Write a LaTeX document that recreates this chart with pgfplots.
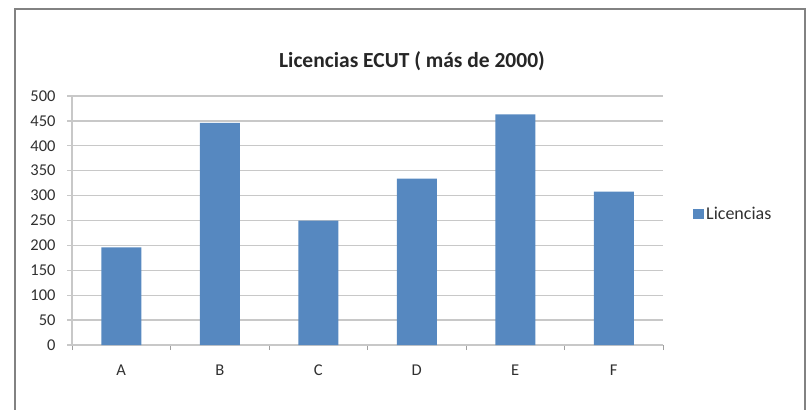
\documentclass[border=0pt]{standalone}
\usepackage{pgfplots}
\pgfplotsset{compat=1.18}
\usepackage{fontspec}
\setmainfont{Carlito}
\definecolor{barblue}{HTML}{5688C0}
\definecolor{gridgray}{HTML}{C8C8C8}
\definecolor{framegray}{HTML}{828282}
\definecolor{txt}{HTML}{303030}
\begin{document}
\begin{tikzpicture}[x=1bp,y=1bp]
\useasboundingbox (0,0) rectangle (811,409);
\draw[line width=2.2bp, color=framegray] (15,-5) -- (15,400) -- (805,400) -- (805,-5);
\begin{axis}[
  at={(72bp,64bp)}, anchor=south west,
  scale only axis, width=591bp, height=249bp,
  xmin=-0.5, xmax=5.5, ymin=0, ymax=500,
  ytick={0,50,...,500},
  xtick={-0.5,0.5,...,5.5},
  xticklabels={A,B,C,D,E,F},
  x tick label as interval,
  axis x line*=bottom, axis y line*=left,
  axis line style={gridgray, line width=1.3bp},
  ymajorgrids, grid style={gridgray, line width=1.3bp},
  tick align=outside, major tick length=5bp,
  tick style={gridgray!80!black, line width=1bp},
  ytick style={gridgray, line width=1.3bp},
  /pgf/number format/assume math mode=true,
  tick label style={font=\fontsize{16.5bp}{18bp}\selectfont, color=txt},
  yticklabel style={xshift=-8bp},
  xticklabel style={yshift=-11bp},
  ybar, bar width=40bp,
  legend style={at={(1.0508,0.526)}, anchor=west, draw=none, fill=none,
    inner sep=0pt, font=\fontsize{18bp}{20bp}\selectfont, text=txt},
  legend image code/.code={\fill[barblue] (0bp,-5bp) rectangle (11bp,5bp);},
  legend cell align=left,
]
\addplot[fill=barblue, draw=none] coordinates {(0,196) (1,446) (2,250) (3,334) (4,463) (5,308)};
\addlegendentry{Licencias}
\end{axis}
\node[font=\bfseries\fontsize{21.5bp}{23bp}\selectfont, text=black!85] at (412,348) {Licencias ECUT ( más de 2000)};
\end{tikzpicture}
\end{document}
